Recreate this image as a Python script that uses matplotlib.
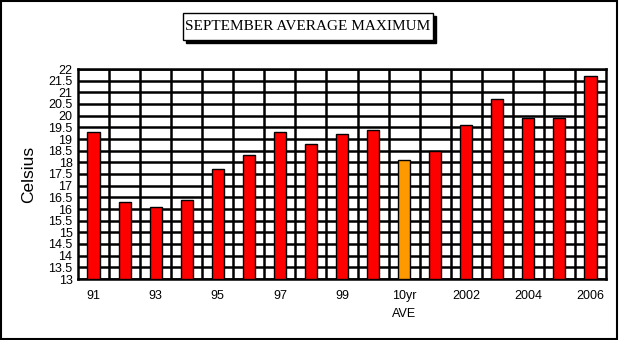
import numpy as np
import matplotlib
matplotlib.use("Agg")
import matplotlib.pyplot as plt
from matplotlib.patches import Rectangle

# September average maximum temperatures
years = ["91", "92", "93", "94", "95", "96", "97", "98", "99", "2000",
         "10yr\nAVE", "2001", "2002", "2003", "2004", "2005", "2006"]
temps = [19.3, 16.3, 16.1, 16.4, 17.7, 18.3, 19.3, 18.8, 19.2, 19.4,
         18.1, 18.5, 19.6, 20.7, 19.9, 19.9, 21.7]
colors = ["red"] * 10 + ["#ff9900"] + ["red"] * 6
y_ticks = np.arange(13, 22.01, 0.5)

plt.rcParams['font.family'] = ['Liberation Sans Narrow', 'Liberation Sans', 'DejaVu Sans']

fig = plt.figure(figsize=(6.2, 3.4), dpi=100)
ax = fig.add_axes([78 / 620, 1 - 279 / 340, 528 / 620, 210 / 340])

x = np.arange(len(temps))
ax.bar(x, np.array(temps) - 13, bottom=13, width=0.39, color=colors,
       edgecolor="black", linewidth=1.0, zorder=3)

ax.set_xlim(-0.5, len(temps) - 0.5)
ax.set_ylim(13, 22)

# horizontal grid every half degree, vertical grid between categories
for v in y_ticks:
    ax.axhline(v, color="black", linewidth=1.8, zorder=1)
for b in np.arange(0.5, len(temps) - 0.5, 1):
    ax.axvline(b, color="black", linewidth=1.8, zorder=1)

ax.set_yticks(y_ticks)
ax.set_yticklabels([f"{v:g}" for v in y_ticks], fontsize=9)
ax.set_xticks(x)
ax.set_xticklabels([lbl if i % 2 == 0 else "" for i, lbl in enumerate(years)],
                   fontsize=9, linespacing=1.6)
ax.tick_params(axis="y", length=0, pad=4)
ax.tick_params(axis="x", direction="in", length=3, width=1, pad=8)
ax.yaxis.set_label_coords(-0.08, 0.5)
ax.set_ylabel("Celsius", fontsize=12.5, family=["Liberation Sans", "DejaVu Sans"])
for s in ax.spines.values():
    s.set_linewidth(1.8)

# outer frame
fig.patches.append(Rectangle((0.002, 0.004), 0.993, 0.992, transform=fig.transFigure,
                             fill=False, edgecolor="black", linewidth=1.5))

# boxed title with drop shadow
x0, y0, w, h = 183 / 620, 1 - 40 / 340, 250 / 620, 27 / 340
fig.patches.append(Rectangle((x0 + 3 / 620, y0 - 3 / 340), w, h, transform=fig.transFigure,
                             facecolor="black", edgecolor="black"))
fig.patches.append(Rectangle((x0, y0), w, h, transform=fig.transFigure,
                             facecolor="white", edgecolor="black", linewidth=1))
fig.text(x0 + w / 2, y0 + h / 2, "SEPTEMBER AVERAGE MAXIMUM", ha="center", va="center",
         fontsize=11, family=["Liberation Serif", "DejaVu Serif"])

fig.savefig("out.png", dpi=100)
